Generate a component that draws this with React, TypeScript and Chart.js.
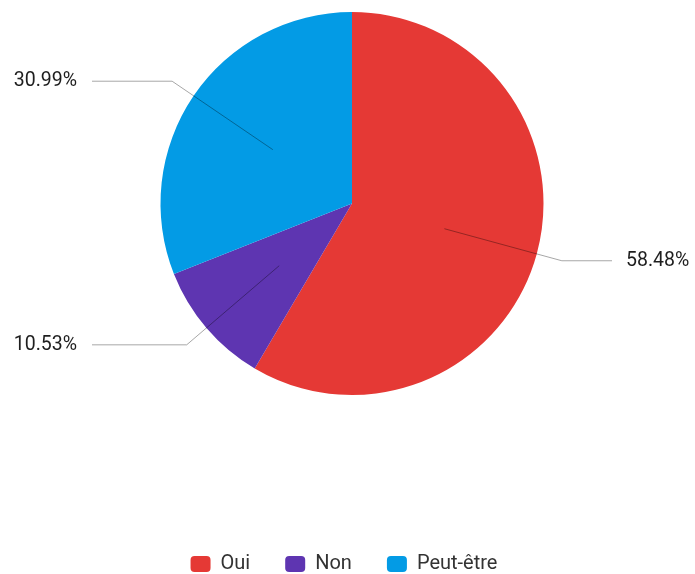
import React, { useEffect, useRef } from "react";
import { Chart, registerables } from "chart.js";

Chart.register(...registerables);

const categories = ["Oui", "Non", "Peut-être"];
const values = [100, 18, 53];
const percentLabels = ["58.48%", "10.53%", "30.99%"];
const colors = ["#E53935", "#5E35B1", "#039BE5"];

const FONT = "Roboto, 'Noto Sans', sans-serif";

const leaderPlugin = {
  id: "leaderLabels",
  afterDatasetsDraw(chart: any) {
    const ctx = chart.ctx;
    const meta = chart.getDatasetMeta(0);
    ctx.save();
    meta.data.forEach((arc: any, i: number) => {
      const { x, y, startAngle, endAngle, outerRadius } = arc.getProps(
        ["x", "y", "startAngle", "endAngle", "outerRadius"],
        true
      );
      const mid = (startAngle + endAngle) / 2;
      const cos = Math.cos(mid);
      const sin = Math.sin(mid);
      const r0 = outerRadius * 0.5;
      const r1 = outerRadius + 26;
      const x0 = x + cos * r0;
      const y0 = y + sin * r0;
      const x1 = x + cos * r1;
      const y1 = y + sin * r1;
      const right = cos >= 0;
      const x2 = right ? x + 260 : x - 260;
      ctx.beginPath();
      ctx.strokeStyle = "rgba(0,0,0,0.35)";
      ctx.lineWidth = 1;
      ctx.moveTo(x0, y0);
      ctx.lineTo(x1, y1);
      ctx.lineTo(x2, y1);
      ctx.stroke();
      ctx.fillStyle = "#1e1e1e";
      ctx.font = `19.5px ${FONT}`;
      ctx.textBaseline = "middle";
      ctx.textAlign = right ? "left" : "right";
      ctx.fillText(percentLabels[i], right ? x2 + 14 : x2 - 15, y1);
    });
    ctx.restore();
  },
};

const legendShiftPlugin = {
  id: "legendShift",
  afterLayout(chart: any) {
    if (chart.legend) {
      chart.legend.left -= 8;
      chart.legend.right -= 8;
    }
  },
};

export default function App() {
  const ref = useRef<HTMLCanvasElement | null>(null);
  useEffect(() => {
    if (!ref.current) return;
    const chart = new Chart(ref.current, {
      type: "pie",
      data: {
        labels: categories,
        datasets: [{ data: values, backgroundColor: colors, borderWidth: 0 }],
      },
      options: {
        responsive: false,
        animation: false,
        layout: { padding: { top: 12, bottom: -10, left: 9, right: 0 } },
        plugins: {
          tooltip: { enabled: false },
          legend: {
            display: true,
            position: "bottom",
            title: {
              display: true,
              text: "",
              font: { size: 12, lineHeight: 1.2 },
              padding: { top: 109.6, bottom: 0 },
            },
            labels: {
              boxWidth: 20,
              boxHeight: 16,
              padding: 35,
              useBorderRadius: true,
              borderRadius: 4,
              color: "#333333",
              font: { size: 20, family: FONT },
            },
          },
        },
      },
      plugins: [leaderPlugin, legendShiftPlugin],
    });
    return () => chart.destroy();
  }, []);
  return (
    <div style={{ position: "absolute", left: 0, top: 0, width: 695, height: 574 }}>
      <canvas ref={ref} width={695} height={574} style={{ width: 695, height: 574 }} />
    </div>
  );
}
